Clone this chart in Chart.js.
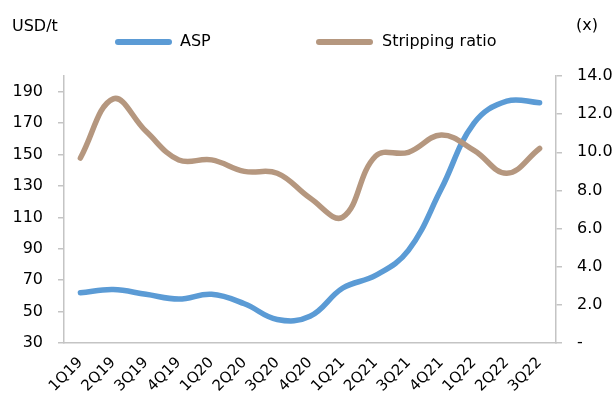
<!DOCTYPE html>
<html>
<head>
<meta charset="utf-8">
<script src="https://cdn.jsdelivr.net/npm/chart.js@4.4.0/dist/chart.umd.min.js"></script>
<style>
  html, body { margin: 0; padding: 0; background: #fff; }
  #wrap { width: 616px; height: 399px; }
</style>
</head>
<body>
<div id="wrap"><canvas id="chart"></canvas></div>
<script>
// Quarterly data
const quarters = ['1Q19', '2Q19', '3Q19', '4Q19', '1Q20', '2Q20', '3Q20', '4Q20',
                  '1Q21', '2Q21', '3Q21', '4Q21', '1Q22', '2Q22', '3Q22'];
const asp = [62, 64, 61, 58, 61, 55, 45, 47, 65, 73, 89, 128, 170, 184, 183];
const strippingRatio = [9.7, 12.8, 11.1, 9.6, 9.6, 9.0, 8.9, 7.6, 6.6, 9.8, 10.0, 10.9, 10.1, 8.9, 10.2];
const aspTicks = [30, 50, 70, 90, 110, 130, 150, 170, 190];
const ratioTicks = [0, 2, 4, 6, 8, 10, 12, 14];

const BLUE = '#5B9BD5';
const BROWN = '#B5977F';
const AXIS = '#c4c4c4';
const FONT = 'DejaVu Sans';

// legend + unit labels drawn on top
const annotations = {
    id: 'annotations',
    afterDraw(chart) {
        const ctx = chart.ctx;
        ctx.save();
        ctx.font = '16px "' + FONT + '"';
        ctx.fillStyle = '#000';
        ctx.textBaseline = 'middle';
        ctx.textAlign = 'left';
        ctx.fillText('USD/t', 12, 27);
        ctx.fillText('(x)', 576, 26);

        const items = [
            { label: 'ASP', color: BLUE, x: 118, tx: 180 },
            { label: 'Stripping ratio', color: BROWN, x: 319, tx: 382 }
        ];
        items.forEach(item => {
            ctx.strokeStyle = item.color;
            ctx.lineWidth = 6;
            ctx.lineCap = 'round';
            ctx.beginPath();
            ctx.moveTo(item.x, 42);
            ctx.lineTo(item.x + 51, 42);
            ctx.stroke();
            ctx.fillText(item.label, item.tx, 42);
        });
        ctx.restore();
    }
};

new Chart(document.getElementById('chart'), {
    type: 'line',
    data: {
        labels: quarters,
        datasets: [{
            label: 'ASP',
            data: asp,
            yAxisID: 'y',
            borderColor: BLUE,
            order: 2
        }, {
            label: 'Stripping ratio',
            data: strippingRatio,
            yAxisID: 'y1',
            borderColor: BROWN,
            order: 1
        }]
    },
    options: {
        responsive: true,
        maintainAspectRatio: false,
        animation: false,
        layout: { padding: { top: 76, left: 0, right: 0, bottom: 0 } },
        elements: {
            line: { borderWidth: 5.5, tension: 0.4, borderCapStyle: 'round', fill: false },
            point: { radius: 0 }
        },
        plugins: {
            legend: { display: false },
            tooltip: { enabled: false }
        },
        scales: {
            x: {
                offset: true,
                grid: { display: false },
                border: { display: true, color: AXIS, width: 1.5 },
                ticks: {
                    autoSkip: false,
                    maxRotation: 45,
                    minRotation: 45,
                    padding: 3,
                    color: '#000',
                    font: { family: FONT, size: 15 }
                },
                afterFit(scale) { scale.height = 56; }
            },
            y: {
                position: 'left',
                min: 30,
                max: 200,
                afterBuildTicks(scale) {
                    scale.ticks = aspTicks.map(v => ({ value: v }));
                },
                grid: { drawOnChartArea: false, drawTicks: true, tickLength: 6, color: AXIS, lineWidth: 1.5 },
                border: { display: true, color: AXIS, width: 1.5 },
                ticks: {
                    padding: 15,
                    color: '#000',
                    font: { family: FONT, size: 16 }
                },
                afterFit(scale) { scale.width = 64; }
            },
            y1: {
                position: 'right',
                min: 0,
                max: 14,
                afterBuildTicks(scale) {
                    scale.ticks = ratioTicks.map(v => ({ value: v }));
                },
                grid: { drawOnChartArea: false, drawTicks: true, tickLength: 6, color: AXIS, lineWidth: 1.5 },
                border: { display: true, color: AXIS, width: 1.5 },
                ticks: {
                    padding: 15,
                    color: '#000',
                    font: { family: FONT, size: 16 },
                    callback: v => v === 0 ? '-' : v.toFixed(1)
                },
                afterFit(scale) { scale.width = 60; }
            }
        }
    },
    plugins: [annotations]
});
</script>
</body>
</html>
